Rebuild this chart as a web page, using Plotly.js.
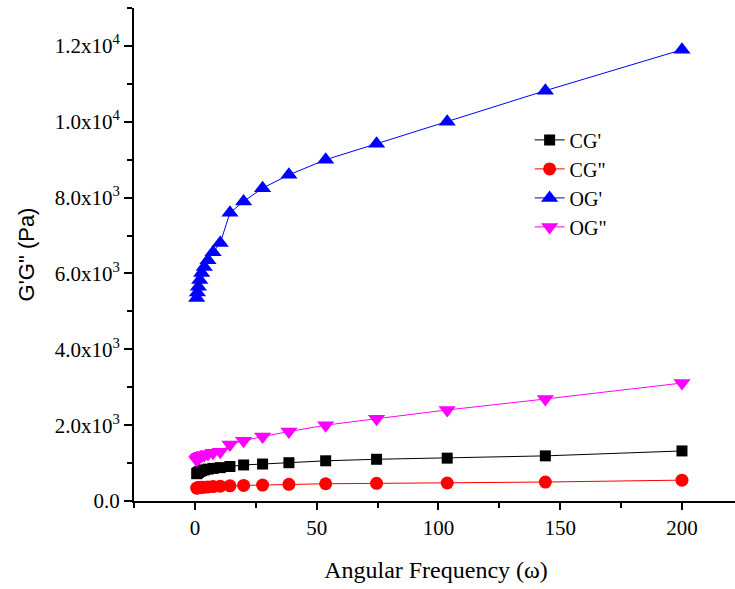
<!DOCTYPE html>
<html>
<head>
<meta charset="utf-8">
<script src="https://cdn.plot.ly/plotly-3.0.1.min.js"></script>
<style>
html, body { margin:0; padding:0; overflow:hidden; background:#fff; }
#chart { width:743px; height:589px; }
</style>
</head>
<body>
<div id="chart"></div>
<script>
// Angular frequency (rad/s)
const freq = [0.746, 1.04, 1.44, 2.0, 2.78, 3.86, 5.37, 7.46, 10.4, 14.4, 20.0, 27.8, 38.6, 53.7, 74.6, 103.6, 143.9, 200];
// Moduli (Pa)
const cgStorage = [720, 740, 760, 780, 800, 820, 840, 860, 880, 910, 950, 975, 1010, 1060, 1100, 1130, 1190, 1320];
const cgLoss    = [340, 345, 350, 355, 360, 365, 370, 380, 390, 400, 410, 420, 440, 455, 465, 475, 500, 550];
const ogStorage = [5350, 5500, 5650, 5830, 6010, 6170, 6350, 6560, 6800, 7600, 7900, 8250, 8600, 9000, 9420, 10000, 10820, 11900];
const ogLoss    = [1080, 1110, 1140, 1170, 1190, 1210, 1240, 1270, 1300, 1490, 1590, 1700, 1830, 2000, 2170, 2400, 2690, 3110];

const seriesNames = ["CG'", 'CG"', "OG'", 'OG"'];
const xTickVals = [0, 50, 100, 150, 200];
const xTickText = ['0', '50', '100', '150', '200'];
const yTickVals = [0, 2000, 4000, 6000, 8000, 10000, 12000];
const yTickText = ['0.0', '2.0x10<sup>3</sup>', '4.0x10<sup>3</sup>', '6.0x10<sup>3</sup>',
                   '8.0x10<sup>3</sup>', '1.0x10<sup>4</sup>', '1.2x10<sup>4</sup>'];

const serif = '"Liberation Serif", "Times New Roman", serif';
const sans = '"Liberation Sans", Arial, sans-serif';

function tr(y, name, color, symbol, size) {
  return {
    x: freq, y: y, name: name, type: 'scatter', mode: 'lines+markers',
    line: {color: color, width: 1},
    marker: {color: color, symbol: symbol, size: size, line: {width: 0}}
  };
}

const data = [
  tr(cgStorage, seriesNames[0], '#000000', 'square', 11),
  tr(cgLoss, seriesNames[1], '#ff0000', 'circle', 13),
  tr(ogStorage, seriesNames[2], '#0000ff', 'triangle-up', 15),
  tr(ogLoss, seriesNames[3], '#ff00ff', 'triangle-down', 15)
];

const xRange = [-25, 223];
const yRange = [0, 13000];

const layout = {
  width: 743, height: 589,
  margin: {l: 134, r: 5, t: 8, b: 88},
  paper_bgcolor: '#ffffff', plot_bgcolor: '#ffffff',
  showlegend: true,
  legend: {
    x: 0.655, y: 0.772, xanchor: 'left', yanchor: 'top',
    bgcolor: 'rgba(0,0,0,0)', borderwidth: 0,
    font: {family: serif, size: 20, color: '#000'},
    tracegroupgap: 0
  },
  xaxis: {
    range: xRange, showgrid: false, zeroline: false,
    showline: true, linecolor: '#000', linewidth: 2,
    ticks: 'outside', ticklen: 7, tickwidth: 2, tickcolor: '#000',
    tickmode: 'array', tickvals: xTickVals, ticktext: xTickText,
    minor: {tickmode: 'linear', tick0: 0, dtick: 25, ticks: 'outside', ticklen: 5, tickwidth: 2, tickcolor: '#000'},
    tickfont: {family: serif, size: 21, color: '#000'},
    title: {text: 'Angular Frequency (ω)', font: {family: serif, size: 24, color: '#000'}, standoff: 22},
    automargin: false
  },
  yaxis: {
    range: yRange, showgrid: false, zeroline: false,
    showline: true, linecolor: '#000', linewidth: 2,
    ticks: 'outside', ticklen: 8, tickwidth: 2, tickcolor: '#000',
    tickmode: 'array', tickvals: yTickVals, ticktext: yTickText,
    minor: {tickmode: 'linear', tick0: 0, dtick: 1000, ticks: 'outside', ticklen: 5, tickwidth: 2, tickcolor: '#000'},
    tickfont: {family: serif, size: 21, color: '#000'},
    title: {text: 'G\'G" (Pa)', font: {family: sans, size: 22, color: '#000'}, standoff: 14},
    automargin: false
  },
  xaxis2: {
    overlaying: 'x', side: 'top', anchor: 'y', range: xRange,
    showgrid: false, zeroline: false, showline: true, linecolor: '#000', linewidth: 2,
    ticks: 'inside', ticklen: 7, tickwidth: 2, tickcolor: '#000',
    tickmode: 'array', tickvals: xTickVals, showticklabels: false,
    minor: {tickmode: 'linear', tick0: 0, dtick: 25, ticks: 'inside', ticklen: 4, tickwidth: 2, tickcolor: '#000'}
  },
  yaxis2: {
    overlaying: 'y', side: 'right', anchor: 'x', range: yRange,
    showgrid: false, zeroline: false, showline: true, linecolor: '#000', linewidth: 2,
    ticks: 'inside', ticklen: 7, tickwidth: 2, tickcolor: '#000',
    tickmode: 'array', tickvals: yTickVals, showticklabels: false,
    minor: {tickmode: 'linear', tick0: 0, dtick: 1000, ticks: 'inside', ticklen: 4, tickwidth: 2, tickcolor: '#000'}
  }
};

Plotly.newPlot('chart', data, layout, {displayModeBar: false, staticPlot: true});
</script>
</body>
</html>
